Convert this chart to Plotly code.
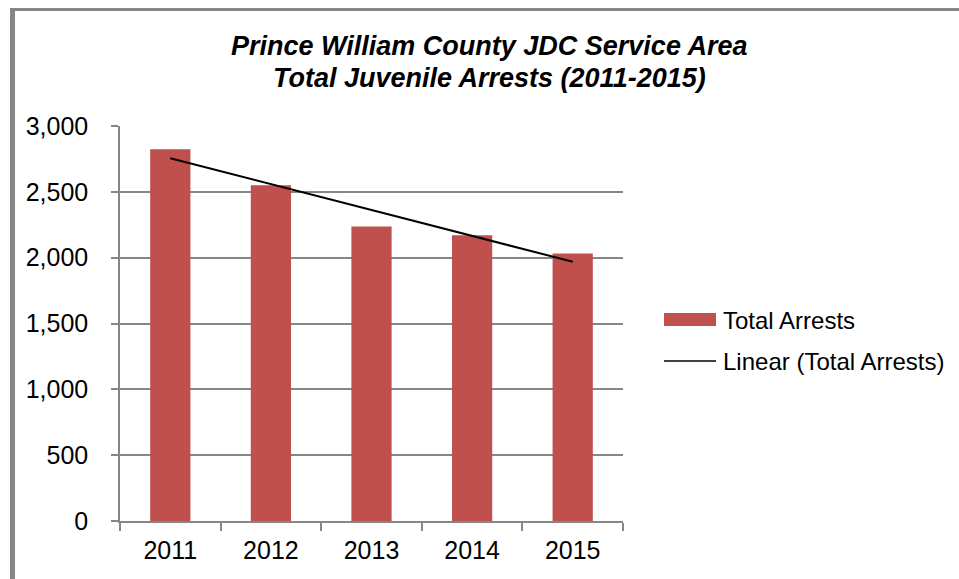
import numpy as np
import plotly.graph_objects as go

# Chart data
years = ["2011", "2012", "2013", "2014", "2015"]
total_arrests = [2824, 2550, 2236, 2170, 2031]
y_tick_values = [0, 500, 1000, 1500, 2000, 2500, 3000]

title_line1 = "Prince William County JDC Service Area"
title_line2 = "Total Juvenile Arrests (2011-2015)"
legend_labels = ["Total Arrests", "Linear (Total Arrests)"]

# Least-squares trend line over the year index
idx = np.arange(len(years))
slope, intercept = np.polyfit(idx, total_arrests, 1)
trend = slope * idx + intercept

# Figure geometry (pixels)
W, H = 959, 579
L, R, T, B = 120, 336, 126, 58
PW, PH = W - L - R, H - T - B

def px_x(x):
    return (x - L) / PW

def px_y(y):
    return (H - B - y) / PH

BAR_RED = "#C0504D"
AXIS_GREY = "#868686"
FONT = "Liberation Sans, Arial, sans-serif"

fig = go.Figure()
fig.add_trace(go.Bar(
    x=years, y=total_arrests, marker_color=BAR_RED,
    marker_line_width=0, name=legend_labels[0], showlegend=False,
))
fig.add_trace(go.Scatter(
    x=years, y=trend, mode="lines", line=dict(color="black", width=2),
    name=legend_labels[1], showlegend=False,
))

# Outer chart frame (left and top edges)
fig.add_shape(type="rect", xref="paper", yref="paper",
              x0=px_x(10), x1=px_x(15), y0=px_y(H + 20), y1=px_y(8),
              fillcolor=AXIS_GREY, line_width=0, layer="above")
fig.add_shape(type="rect", xref="paper", yref="paper",
              x0=px_x(10), x1=px_x(W + 20), y0=px_y(11), y1=px_y(8),
              fillcolor=AXIS_GREY, line_width=0, layer="above")

# Title, one annotation per line
title_font = dict(family=FONT, size=27, color="black", weight="bold", style="italic")
for line, yc in zip([title_line1, title_line2], [46, 78]):
    fig.add_annotation(text=line, xref="paper", yref="paper",
                       x=px_x(489), y=px_y(yc), xanchor="center", yanchor="middle",
                       showarrow=False, font=title_font)

# Legend
fig.add_shape(type="rect", xref="paper", yref="paper",
              x0=px_x(664), x1=px_x(716), y0=px_y(326), y1=px_y(313),
              fillcolor=BAR_RED, line_width=0)
fig.add_shape(type="line", xref="paper", yref="paper",
              x0=px_x(664), x1=px_x(716), y0=px_y(361), y1=px_y(361),
              line=dict(color="black", width=1.5))
for label, yc in zip(legend_labels, [320, 361]):
    fig.add_annotation(text=label, xref="paper", yref="paper",
                       x=px_x(721), y=px_y(yc), xanchor="left", yanchor="middle",
                       showarrow=False, font=dict(family=FONT, size=24, color="black"))

fig.update_layout(
    width=W, height=H,
    margin=dict(l=L, r=R, t=T, b=B),
    paper_bgcolor="white", plot_bgcolor="white",
    bargap=0.6,
    showlegend=False,
    xaxis=dict(
        type="category", range=[-0.5, 4.5],
        showline=True, linecolor=AXIS_GREY, linewidth=1.5,
        ticks="outside", tickson="boundaries", ticklen=8,
        tickcolor=AXIS_GREY, tickwidth=1.5, showgrid=False,
        tickfont=dict(family=FONT, size=25, color="black"),
        ticklabelstandoff=6,
    ),
    yaxis=dict(
        range=[0, 3000], tickvals=y_tick_values, tickformat=",",
        showline=True, linecolor=AXIS_GREY, linewidth=1.5,
        ticks="outside", ticklen=7, tickcolor=AXIS_GREY, tickwidth=1.5,
        showgrid=True, gridcolor=AXIS_GREY, gridwidth=1.5, zeroline=False,
        tickfont=dict(family=FONT, size=25, color="black"),
        ticklabelstandoff=18,
    ),
)

fig.write_html("out.html")
